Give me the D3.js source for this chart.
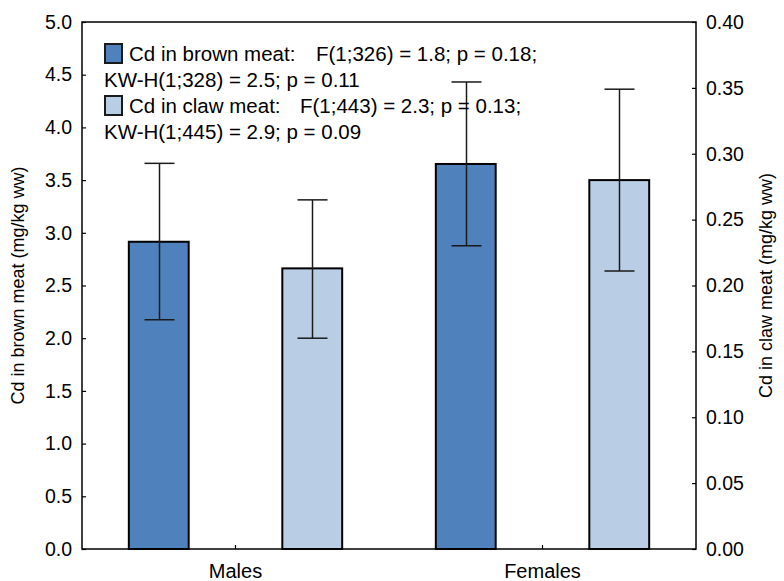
<!DOCTYPE html>
<html>
<head>
<meta charset="utf-8">
<script src="https://cdn.jsdelivr.net/npm/d3@7/dist/d3.min.js"></script>
<style>
  html, body { margin: 0; padding: 0; background: #fff; }
  svg { display: block; font-family: "Liberation Sans", Arial, sans-serif; }
</style>
</head>
<body>
<svg id="chart" width="784" height="581"></svg>
<script>
// ---- data ----
const categories = ["Males", "Females"];
const series = ["Cd in brown meat", "Cd in claw meat"];
const brownMean  = [2.915, 3.653];
const brownUpper = [3.659, 4.431];
const brownLower = [2.175, 2.877];
const clawMean   = [0.213, 0.280];
const clawUpper  = [0.265, 0.349];
const clawLower  = [0.160, 0.211];
const leftTicks  = [0, 0.5, 1, 1.5, 2, 2.5, 3, 3.5, 4, 4.5, 5];
const rightTicks = [0, 0.05, 0.10, 0.15, 0.20, 0.25, 0.30, 0.35, 0.40];
const legendStats = [
  ["F(1;326) = 1.8; p = 0.18;", "KW-H(1;328) = 2.5; p = 0.11"],
  ["F(1;443) = 2.3; p = 0.13;", "KW-H(1;445) = 2.9; p = 0.09"]
];
const colors = ["#4f81bd", "#b9cde5"];

// ---- layout ----
const L = 82, R = 696, T = 22, B = 549;
const svg = d3.select("#chart");

const x0 = d3.scaleBand().domain(categories).range([L, R]).padding(0);
const x1 = d3.scaleBand().domain(series).range([0, x0.bandwidth()]).padding(0);
const barW = x1.bandwidth() * 0.39;
const yL = d3.scaleLinear().domain([0, 5]).range([B, T]);
const yR = d3.scaleLinear().domain([0, 0.4]).range([B, T]);

const rows = categories.map((c, i) => ([
  { cat: c, s: series[0], mean: brownMean[i], up: brownUpper[i], lo: brownLower[i], y: yL, col: colors[0] },
  { cat: c, s: series[1], mean: clawMean[i], up: clawUpper[i], lo: clawLower[i], y: yR, col: colors[1] }
])).flat();

// bars
svg.append("g").selectAll("rect").data(rows).join("rect")
  .attr("x", d => x0(d.cat) + x1(d.s) + (x1.bandwidth() - barW) / 2)
  .attr("width", barW)
  .attr("y", d => d.y(d.mean))
  .attr("height", d => B - d.y(d.mean))
  .attr("fill", d => d.col)
  .attr("stroke", "#000")
  .attr("stroke-width", 2);

// error bars
const eg = svg.append("g").attr("stroke", "#1a1a1a").attr("stroke-width", 1.5).attr("fill", "none");
rows.forEach(d => {
  const cx = Math.round(x0(d.cat) + x1(d.s) + x1.bandwidth() / 2) + 0.5;
  const cap = 15;
  eg.append("line").attr("x1", cx).attr("x2", cx).attr("y1", d.y(d.up)).attr("y2", d.y(d.lo));
  eg.append("line").attr("x1", cx - cap).attr("x2", cx + cap).attr("y1", d.y(d.up)).attr("y2", d.y(d.up));
  eg.append("line").attr("x1", cx - cap).attr("x2", cx + cap).attr("y1", d.y(d.lo)).attr("y2", d.y(d.lo));
});

// axes
const axL = svg.append("g").attr("transform", `translate(${L},0)`)
  .call(d3.axisRight(yL).tickValues(leftTicks).tickSize(4).tickFormat(d3.format(".1f")));
axL.selectAll("text").attr("x", -10).attr("text-anchor", "end");
const axR = svg.append("g").attr("transform", `translate(${R},0)`)
  .call(d3.axisLeft(yR).tickValues(rightTicks).tickSize(4).tickFormat(d3.format(".2f")));
axR.selectAll("text").attr("x", 10).attr("text-anchor", "start");
const axB = svg.append("g").attr("transform", `translate(0,${B})`)
  .call(d3.axisTop(x0).tickSize(4));
axB.selectAll("text").attr("y", 29).attr("dy", 0).attr("font-size", 20);

[axL, axR, axB].forEach(a => {
  a.select(".domain").remove();
  a.selectAll("line").attr("stroke", "#000").attr("stroke-width", 1.2);
  a.selectAll("text").attr("fill", "#000").attr("font-family", "Liberation Sans, Arial, sans-serif");
});
axL.selectAll("text").attr("font-size", 19.5);
axR.selectAll("text").attr("font-size", 19.5);

// frame
svg.append("rect").attr("x", L).attr("y", T).attr("width", R - L).attr("height", B - T)
  .attr("fill", "none").attr("stroke", "#000").attr("stroke-width", 1.5);

// axis titles
svg.append("text").attr("transform", `translate(24,${(T + B) / 2}) rotate(-90)`)
  .attr("text-anchor", "middle").attr("font-size", 18).text("Cd in brown meat (mg/kg ww)");
svg.append("text").attr("transform", `translate(772,${(T + B) / 2}) rotate(-90)`)
  .attr("text-anchor", "middle").attr("font-size", 18).text("Cd in claw meat (mg/kg ww)");

// legend
const lg = svg.append("g").attr("font-size", 20.5).attr("fill", "#000");
const statX = [316, 300];
series.forEach((s, i) => {
  const base = 61 + i * 52;
  lg.append("rect").attr("x", 105).attr("y", base - 17).attr("width", 17).attr("height", 19)
    .attr("fill", colors[i]).attr("stroke", "#1a1a1a").attr("stroke-width", 2);
  lg.append("text").attr("x", 129).attr("y", base).text(s + ":");
  lg.append("text").attr("x", statX[i]).attr("y", base).text(legendStats[i][0]);
  lg.append("text").attr("x", 104).attr("y", base + 26).text(legendStats[i][1]);
});
</script>
</body>
</html>
